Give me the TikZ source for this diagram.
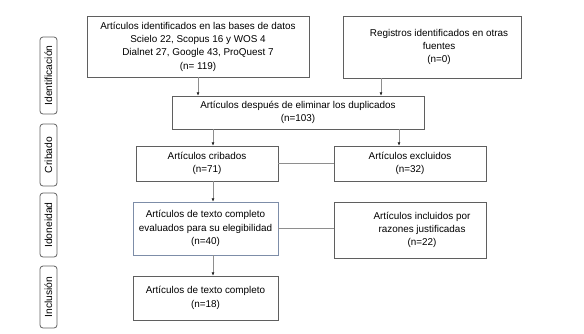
\documentclass[tikz,border=0pt]{standalone}
\usepackage{fontspec}
\setmainfont{Liberation Sans}
\usetikzlibrary{arrows.meta,positioning,shapes.misc}
\definecolor{BoxGray}{HTML}{5F5F5F}
\definecolor{LinkGray}{HTML}{8E8E8E}
\definecolor{SlateEdge}{HTML}{7D8DA8}

\begin{document}
\begin{tikzpicture}[x=1pt,y=-1pt,
    font=\fontsize{9.9}{13.3}\selectfont,
    flowbox/.style={draw=BoxGray,line width=0.8pt,align=center,inner sep=0pt},
    phase/.style={draw=BoxGray,line width=0.8pt,rounded corners=3pt,rotate=90,
      minimum height=17pt,inner sep=0pt,font=\fontsize{10.3}{12}\selectfont},
    link/.style={draw=LinkGray,line width=0.6pt},
    flowarrow/.style={link,-{Latex[length=3.2pt,width=3pt,color=black!85]}}
  ]
  \useasboundingbox (0,0) rectangle (584,333);

  % phases
  \node[phase,minimum width=77pt] (idph) at (48.5,75.5) {Identificación};
  \node[phase,minimum width=62pt] (crph) at (48.5,155) {Cribado};
  \node[phase,minimum width=64pt] (ioph) at (48.5,225) {Idoneidad};
  \node[phase,minimum width=62pt] (inph) at (48.5,297) {Inclusión};

  % boxes
  \node[flowbox,minimum width=222pt,minimum height=61pt] (bases) at (198,46.5)
    {Artículos identificados en las bases de datos\\Scielo 22, Scopus 16 y WOS 4\\Dialnet 27, Google 43, ProQuest 7\\(n= 119)};
  \node[flowbox,minimum width=178pt,minimum height=62pt] (otras) at (432,47)
    {\hspace*{14pt}Registros identificados en otras\\\hspace*{14pt}fuentes\\\hspace*{14pt}(n=0)};
  \node[flowbox,minimum width=252pt,minimum height=33pt] (dupl) at (298,112.5)
    {Artículos después de eliminar los duplicados\\(n=103)};
  \node[flowbox,minimum width=142pt,minimum height=35pt] (crib) at (207,163.5)
    {Artículos cribados\\(n=71)};
  \node[flowbox,minimum width=152pt,minimum height=35pt] (excl) at (410,163.5)
    {Artículos excluidos\\(n=32)};
  \node[flowbox,draw=SlateEdge,minimum width=145pt,minimum height=53pt] (eleg) at (205.5,228.5)
    {Artículos de texto completo\\evaluados para su elegibilidad\\(n=40)};
  \node[flowbox,minimum width=152pt,minimum height=56pt] (just) at (410,230)
    {\hspace*{24pt}Artículos incluidos por\\\hspace*{24pt}razones justificadas\\\hspace*{24pt}(n=22)};
  \node[flowbox,minimum width=145pt,minimum height=44pt] (incl) at (205.5,298)
    {Artículos de texto completo\\(n=18)};

  % connectors
  \draw[flowarrow] (bases.south) -- (bases.south |- dupl.north);
  \draw[flowarrow] ([xshift=-51pt]otras.south) -- ([xshift=-51pt]otras.south |- dupl.north);
  \draw[flowarrow] ([xshift=6pt]crib.north |- dupl.south) -- ([xshift=6pt]crib.north);
  \draw[flowarrow] ([xshift=-11pt]excl.north |- dupl.south) -- ([xshift=-11pt]excl.north);
  \draw[link] (crib.east) -- (excl.west);
  \draw[flowarrow] ([xshift=7.5pt]eleg.north |- crib.south) -- ([xshift=7.5pt]eleg.north);
  \draw[link] (eleg.east) -- (eleg.east -| just.west);
  \draw[flowarrow] ([xshift=7.5pt]eleg.south) -- ([xshift=7.5pt]incl.north);
\end{tikzpicture}
\end{document}
